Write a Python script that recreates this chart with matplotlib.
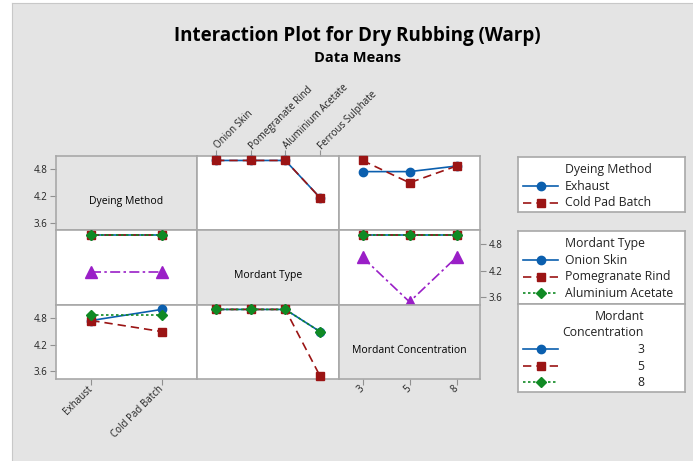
import numpy as np
import matplotlib
matplotlib.use('Agg')
import matplotlib.pyplot as plt
from matplotlib.lines import Line2D

plt.rcParams['font.family'] = ['Open Sans', 'DejaVu Sans']

# factor levels
method_levels = ['Exhaust', 'Cold Pad Batch']
mordant_levels = ['Onion Skin', 'Pomegranate Rind', 'Aluminium Acetate', 'Ferrous Sulphate']
conc_levels = ['3', '5', '8']

# cell means, trace factor -> values over the x factor levels
method_by_mordant = {'Exhaust': [5.0, 5.0, 5.0, 4.167],
                     'Cold Pad Batch': [5.0, 5.0, 5.0, 4.167]}
method_by_conc = {'Exhaust': [4.75, 4.75, 4.875],
                  'Cold Pad Batch': [5.0, 4.5, 4.875]}
mordant_by_method = {'Onion Skin': [5.0, 5.0],
                     'Pomegranate Rind': [5.0, 5.0],
                     'Aluminium Acetate': [5.0, 5.0],
                     'Ferrous Sulphate': [4.167, 4.167]}
mordant_by_conc = {'Onion Skin': [5.0, 5.0, 5.0],
                   'Pomegranate Rind': [5.0, 5.0, 5.0],
                   'Aluminium Acetate': [5.0, 5.0, 5.0],
                   'Ferrous Sulphate': [4.5, 3.5, 4.5]}
conc_by_method = {'3': [4.75, 5.0], '5': [4.75, 4.5], '8': [4.875, 4.875]}
conc_by_mordant = {'3': [5.0, 5.0, 5.0, 4.5], '5': [5.0, 5.0, 5.0, 3.5],
                   '8': [5.0, 5.0, 5.0, 4.5]}

y_ticks = [3.6, 4.2, 4.8]

factors = ['Dyeing Method', 'Mordant Type', 'Mordant Concentration']
levels = [method_levels, mordant_levels, conc_levels]
means = {(0, 1): method_by_mordant, (0, 2): method_by_conc,
         (1, 0): mordant_by_method, (1, 2): mordant_by_conc,
         (2, 0): conc_by_method, (2, 1): conc_by_mordant}

# minitab-like series styles
styles = [dict(color='#0b5fae', ls='-', marker='o', ms=6),
          dict(color='#9b1414', ls=(0, (5, 3)), marker='s', ms=6),
          dict(color='#108a24', ls=(0, (1.5, 1.5)), marker='D', ms=5.5),
          dict(color='#9a1fc7', ls=(0, (6, 2, 1.5, 2)), marker='^', ms=8)]

W, H = 693, 461
BG = '#e4e4e4'
EDGE = '#a8a8a8'
fig = plt.figure(figsize=(W / 100, H / 100), dpi=100)
fig.patch.set_facecolor('white')


def px_axes(x0, y0, x1, y1):
    return fig.add_axes([x0 / W, 1 - y1 / H, (x1 - x0) / W, (y1 - y0) / H])


back = px_axes(12, 3, W + 2, H + 2)
back.set_facecolor(BG)
back.set_xticks([])
back.set_yticks([])
for s in back.spines.values():
    s.set_color('#c8c8c8')
back.set_zorder(-5)

fig.text(357 / W, 1 - 36 / H, 'Interaction Plot for Dry Rubbing (Warp)',
         ha='center', va='center', fontsize=13.5, fontweight='bold')
fig.text(357 / W, 1 - 58 / H, 'Data Means', ha='center', va='center',
         fontsize=10.5, fontweight='bold')

xe = [56, 197, 339, 480]
ye = [156, 230.5, 305, 379]

for i in range(3):
    for j in range(3):
        ax = px_axes(xe[j], ye[i], xe[j + 1], ye[i + 1])
        n = len(levels[j])
        pad = 0.55 if n == 4 else 0.5
        ax.set_xlim(1 - pad, n + pad)
        ax.set_ylim(3.43, 5.10)
        for s in ax.spines.values():
            s.set_color(EDGE)
            s.set_linewidth(1.2)
        ax.tick_params(length=4, width=0.8, color='#909090', labelsize=7,
                       pad=2, labelcolor='#222222')
        if i == j:
            ax.set_facecolor(BG)
            ax.text(0.5, 0.39, factors[i], transform=ax.transAxes,
                    ha='center', va='center', fontsize=7.5)
        else:
            ax.set_facecolor('white')
            data = means[(i, j)]
            x = np.arange(1, n + 1)
            for k, lev in enumerate(levels[i]):
                st = styles[k]
                ax.plot(x, data[lev], color=st['color'], ls=st['ls'],
                        lw=1.2, marker=st['marker'], ms=st['ms'],
                        mec=st['color'], mfc=st['color'], clip_on=False,
                        zorder=3 + k)
        ax.set_xticks(np.arange(1, n + 1))
        ax.set_yticks(y_ticks)
        ax.set_yticklabels([f'{v:.1f}' for v in y_ticks])
        # x tick labels: top of first row for the middle column,
        # bottom of the last row for the outer columns
        ax.tick_params(axis='x', bottom=False, top=False,
                       labelbottom=False, labeltop=False)
        if j == 1 and i == 0:
            ax.tick_params(axis='x', top=True, labeltop=True)
            ax.set_xticklabels(levels[j], rotation=45, ha='left',
                               va='center', rotation_mode='anchor')
        if j != 1 and i == 2:
            ax.tick_params(axis='x', bottom=True, labelbottom=True)
            ax.set_xticklabels(levels[j], rotation=45, ha='right',
                               va='center', rotation_mode='anchor')
        ax.tick_params(axis='y', left=False, right=False,
                       labelleft=False, labelright=False)
        if j == 0 and i in (0, 2):
            ax.tick_params(axis='y', left=True, labelleft=True)
        if j == 2 and i == 1:
            ax.tick_params(axis='y', right=True, labelright=True)


def legend_box(x0, y0, x1, y1, title_lines, labels, title_x, right_labels):
    lax = px_axes(x0, y0, x1, y1)
    lax.set_xlim(x0, x1)
    lax.set_ylim(y1, y0)
    lax.set_facecolor('white')
    lax.set_xticks([])
    lax.set_yticks([])
    for s in lax.spines.values():
        s.set_color(EDGE)
        s.set_linewidth(1.2)
    ty = y0 + 12.5
    for t in title_lines:
        lax.text(title_x, ty, t, ha='right' if right_labels else 'left',
                 va='center', fontsize=8.8, color='#222222')
        ty += 16.5
    for k, lab in enumerate(labels):
        st = styles[k]
        yy = ty + k * 16.5
        # entries past the bottom edge are cut off by the box below
        hidden = yy > y1
        lax.add_line(Line2D([523, 558], [yy, yy], color=st['color'],
                            ls=st['ls'], lw=1.2, clip_on=not hidden))
        lax.plot([541], [yy], marker=st['marker'], ms=st['ms'],
                 color=st['color'], clip_on=not hidden)
        if hidden:
            continue
        if right_labels:
            lax.text(644, yy, lab, ha='right', va='center', fontsize=8.8,
                     color='#222222')
        else:
            lax.text(565, yy, lab, ha='left', va='center', fontsize=8.8,
                     color='#222222')
    return lax


legend_box(518, 157, 685, 212, ['Dyeing Method'], method_levels, 565, False)
lb2 = legend_box(518, 231, 685, 304, ['Mordant Type'], mordant_levels, 565, False)
lb3 = legend_box(518, 304, 685, 392, ['Mordant', 'Concentration'], conc_levels,
                 644, True)
lb2.set_zorder(4)
lb3.set_zorder(5)

fig.savefig('out.png', dpi=100, facecolor=fig.get_facecolor())
